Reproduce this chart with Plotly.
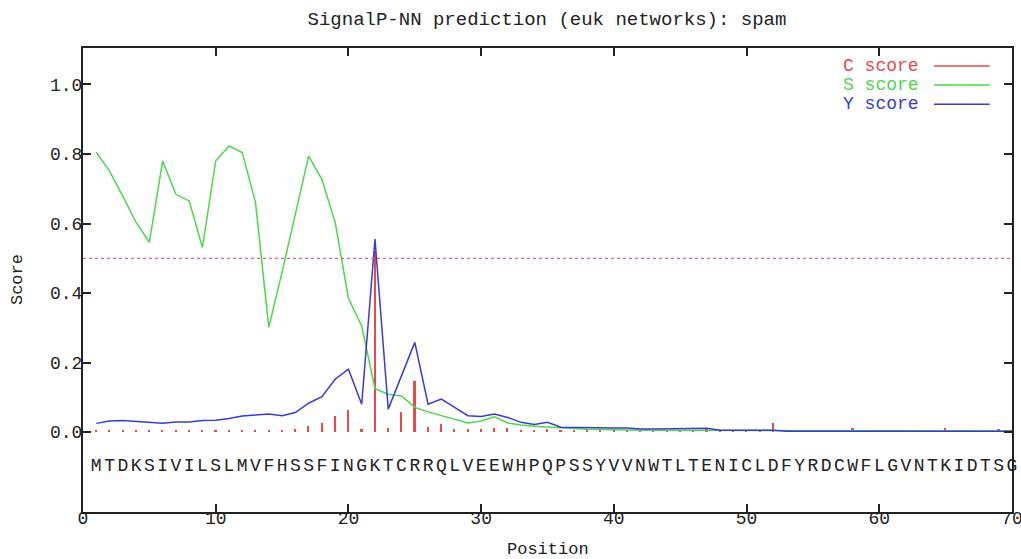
import plotly.graph_objects as go

# ---------------- data ----------------
sequence = "MTDKSIVILSLMVFHSSFINGKTCRRQLVEEWHPQPSSYVVNWTLTENICLDFYRDCWFLGVNTKIDTSG"
positions = list(range(1, 71))

c_score = [0.006, 0.006, 0.006, 0.006, 0.006, 0.006, 0.006, 0.006, 0.006, 0.006,
           0.006, 0.006, 0.006, 0.006, 0.006, 0.008, 0.018, 0.025, 0.047, 0.063,
           0.010, 0.520, 0.012, 0.057, 0.147, 0.015, 0.023, 0.010, 0.008, 0.008,
           0.011, 0.011, 0.006, 0.006, 0.010, 0.006, 0.006, 0.007, 0.006, 0.006,
           0.006, 0.006, 0.006, 0.006, 0.006, 0.006, 0.010, 0.006, 0.006, 0.006,
           0.006, 0.025, 0.006, 0.006, 0.006, 0.006, 0.006, 0.013, 0.006, 0.006,
           0.006, 0.006, 0.006, 0.006, 0.013, 0.006, 0.006, 0.006, 0.010, 0.006]

s_score = [0.805, 0.751, 0.679, 0.603, 0.546, 0.780, 0.684, 0.665, 0.531, 0.780,
           0.823, 0.804, 0.660, 0.301, 0.460, 0.630, 0.794, 0.727, 0.603, 0.385,
           0.305, 0.125, 0.109, 0.104, 0.071, 0.058, 0.047, 0.037, 0.026, 0.032,
           0.044, 0.026, 0.020, 0.017, 0.014, 0.012, 0.010, 0.008, 0.007, 0.005,
           0.005, 0.005, 0.005, 0.005, 0.005, 0.005, 0.005, 0.005, 0.005, 0.005,
           0.005, 0.005, 0.003, 0.003, 0.003, 0.003, 0.003, 0.003, 0.003, 0.003,
           0.003, 0.003, 0.003, 0.003, 0.003, 0.003, 0.003, 0.003, 0.003, 0.003]

y_score = [0.025, 0.032, 0.033, 0.031, 0.029, 0.025, 0.029, 0.029, 0.033, 0.034,
           0.039, 0.046, 0.049, 0.052, 0.047, 0.056, 0.083, 0.102, 0.152, 0.181,
           0.080, 0.555, 0.066, 0.162, 0.258, 0.080, 0.095, 0.071, 0.047, 0.045,
           0.052, 0.042, 0.028, 0.022, 0.028, 0.014, 0.013, 0.012, 0.012, 0.012,
           0.012, 0.009, 0.009, 0.009, 0.009, 0.009, 0.011, 0.005, 0.005, 0.005,
           0.005, 0.005, 0.002, 0.002, 0.002, 0.002, 0.002, 0.002, 0.002, 0.002,
           0.002, 0.002, 0.002, 0.002, 0.002, 0.002, 0.002, 0.002, 0.002, 0.002]

THRESHOLD = 0.5
x_ticks = [0, 10, 20, 30, 40, 50, 60, 70]
y_ticks = [0.0, 0.2, 0.4, 0.6, 0.8, 1.0]
SEQ_Y = -0.10

series_names = ["C score", "S score", "Y score"]
RED, GREEN, BLUE = "#e84a4a", "#4bd84b", "#3a3ad6"
FONT = "Liberation Mono"

# ---------------- figure ----------------
fig = go.Figure()

fig.add_trace(go.Bar(x=positions, y=c_score, width=0.12, marker=dict(color=RED, line=dict(width=0)),
                     showlegend=False, name=series_names[0]))
fig.add_trace(go.Scatter(x=positions, y=s_score, mode="lines", line=dict(color=GREEN, width=1.5),
                         showlegend=False, name=series_names[1]))
fig.add_trace(go.Scatter(x=positions, y=y_score, mode="lines", line=dict(color=BLUE, width=1.5),
                         showlegend=False, name=series_names[2]))

fig.add_trace(go.Scatter(x=positions, y=[SEQ_Y] * len(positions), mode="text",
                         text=list(sequence), textposition="middle center",
                         textfont=dict(family=FONT, size=18, color="#222222"),
                         cliponaxis=False, showlegend=False, hoverinfo="skip"))

fig.add_hline(y=THRESHOLD, line=dict(color="#e0609a", width=1.2, dash="dot"))

# manual legend (gnuplot style: text right, line sample after it)
leg_rows = [0.961, 0.920, 0.879]
for name, col, yy in zip(series_names, [RED, GREEN, BLUE], leg_rows):
    fig.add_annotation(xref="paper", yref="paper", x=0.902, y=yy, text=name,
                       showarrow=False, xanchor="right", yanchor="middle",
                       font=dict(family=FONT, size=18, color=col))
    fig.add_shape(type="line", xref="paper", yref="paper", x0=0.916, x1=0.976,
                  y0=yy, y1=yy, line=dict(color=col, width=1.5))

axis_common = dict(showline=True, linecolor="#222222", linewidth=2, mirror="ticks",
                   ticks="inside", ticklen=8, tickwidth=1.5, tickcolor="#222222",
                   showgrid=False, zeroline=False, automargin=False,
                   ticklabeloverflow="allow",
                   tickfont=dict(family=FONT, size=18, color="#222222"))

fig.update_xaxes(range=[0, 70], tickvals=x_ticks, ticklabelstandoff=-12, **axis_common)
fig.update_yaxes(range=[-0.23, 1.105], tickvals=y_ticks, tickformat=".1f",
                 ticklabelstandoff=-5, **axis_common)

fig.add_annotation(xref="paper", yref="paper", x=0.5, y=-0.08, text="Position",
                   showarrow=False, xanchor="center", yanchor="middle",
                   font=dict(family=FONT, size=17, color="#222222"))
fig.add_annotation(xref="paper", yref="paper", x=-0.071, y=0.5, text="Score",
                   showarrow=False, textangle=-90, xanchor="center", yanchor="middle",
                   font=dict(family=FONT, size=17, color="#222222"))

fig.update_layout(
    width=1021, height=559,
    margin=dict(l=83, r=9, t=48, b=47, autoexpand=False),
    paper_bgcolor="white", plot_bgcolor="white",
    title=dict(text="SignalP-NN prediction (euk networks): spam", x=547 / 1021, xanchor="center",
               y=1 - 18 / 559, yanchor="middle", yref="container",
               font=dict(family=FONT, size=19, color="#222222")),
    bargap=0, showlegend=False,
)

# remove the default page margin so the figure fills the 1021x559 window exactly
fig.write_html("out.html",
               config={"displayModeBar": False},
               post_script="document.body.style.margin='0';"
                           "document.documentElement.style.overflow='hidden';"
                           "document.body.style.overflow='hidden';")
